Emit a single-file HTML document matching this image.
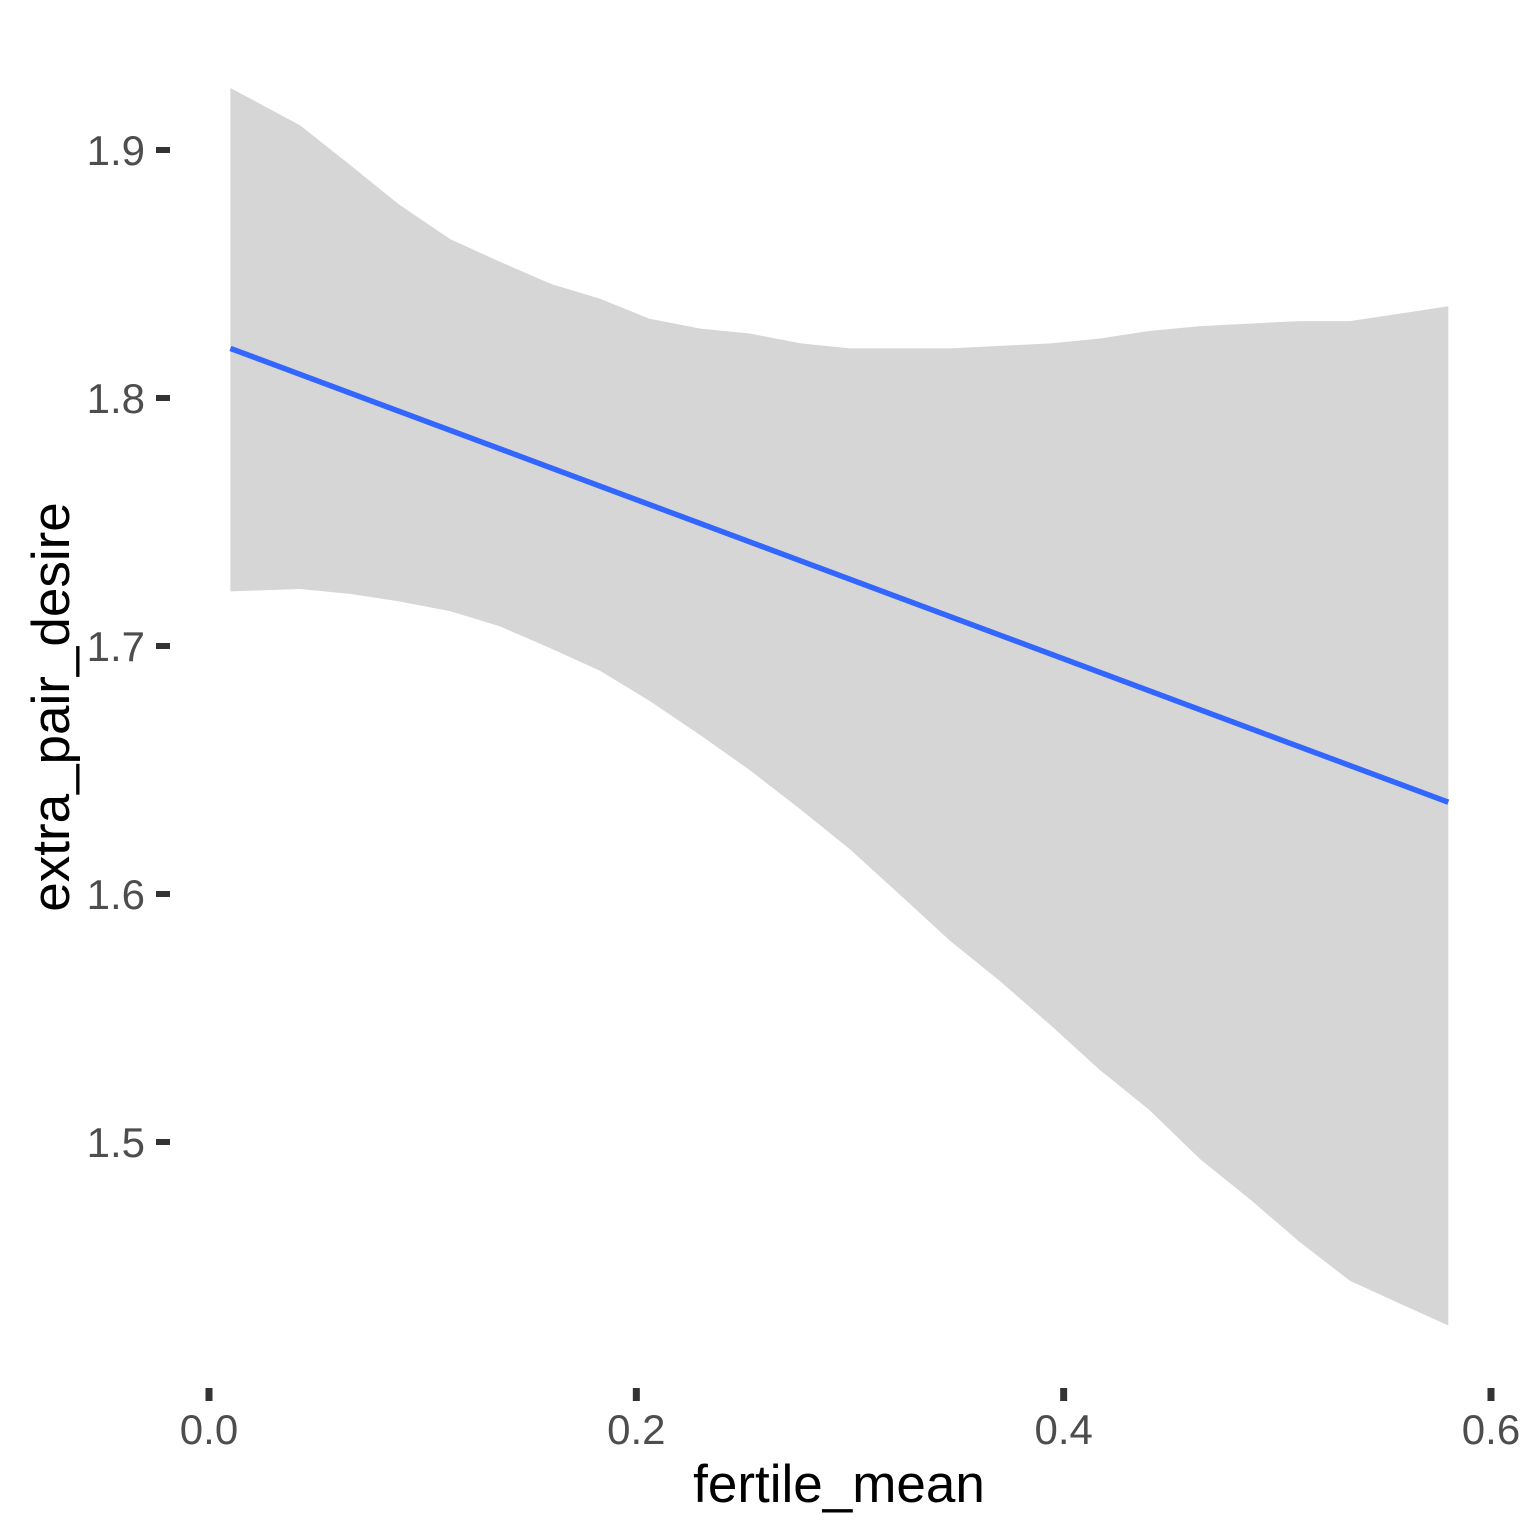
<!DOCTYPE html>
<html><head><meta charset="utf-8"><style>
html,body{margin:0;padding:0;background:#fff;}
svg{display:block;font-family:"Liberation Sans",Arial,sans-serif;}
</style></head><body>
<svg id="chart" width="1536" height="1536" viewBox="0 0 1536 1536" xmlns="http://www.w3.org/2000/svg">
<g id="ribbon-layer"></g>
<g id="line-layer"></g>
<g id="yaxis"></g>
<g id="xaxis"></g>
<text x="839" y="1502" font-size="53" text-anchor="middle" fill="#000">fertile_mean</text>
<text transform="translate(69,707) rotate(-90)" font-size="53" text-anchor="middle" fill="#000">extra_pair_desire</text>
</svg>
<script>
const ribbonX = [0.01,0.0426,0.066,0.089,0.113,0.136,0.16,0.183,0.206,0.23,0.253,0.277,0.3,0.323,0.347,0.37,0.394,0.417,0.44,0.464,0.487,0.51,0.534,0.557,0.58];
const ribbonUpper = [1.925,1.910,1.894,1.878,1.864,1.855,1.846,1.840,1.832,1.828,1.826,1.822,1.820,1.820,1.820,1.821,1.822,1.824,1.827,1.829,1.830,1.831,1.831,1.834,1.837];
const ribbonLower = [1.722,1.723,1.721,1.718,1.714,1.708,1.699,1.690,1.678,1.664,1.650,1.634,1.618,1.600,1.581,1.565,1.547,1.529,1.513,1.493,1.477,1.460,1.444,1.435,1.426];
const lineX = [0.01,0.58];
const lineY = [1.820,1.637];
const xTicks = [0.0,0.2,0.4,0.6];
const xTickLabels = ["0.0","0.2","0.4","0.6"];
const yTicks = [1.5,1.6,1.7,1.8,1.9];
const yTickLabels = ["1.5","1.6","1.7","1.8","1.9"];

const NS = "http://www.w3.org/2000/svg";
function sx(v){ return 209 + v * (1491 - 209) / 0.6; }
function sy(v){ return 150 + (1.9 - v) * 2480; }

const rib = document.getElementById('ribbon-layer');
let d = '';
ribbonX.forEach((x,i)=>{ d += (i?'L':'M') + sx(x).toFixed(1) + ',' + sy(ribbonUpper[i]).toFixed(1); });
for (let i = ribbonX.length-1; i>=0; i--) d += 'L' + sx(ribbonX[i]).toFixed(1) + ',' + sy(ribbonLower[i]).toFixed(1);
d += 'Z';
const rp = document.createElementNS(NS,'path');
rp.setAttribute('d', d);
rp.setAttribute('fill', '#d6d6d6');


rib.appendChild(rp);

const ll = document.getElementById('line-layer');
let ld = '';
lineX.forEach((x,i)=>{ ld += (i?'L':'M') + sx(x).toFixed(1) + ',' + sy(lineY[i]).toFixed(1); });
const lp = document.createElementNS(NS,'path');
lp.setAttribute('d', ld);
lp.setAttribute('stroke', '#3366ff');
lp.setAttribute('stroke-width', '5.5');
lp.setAttribute('fill', 'none');


ll.appendChild(lp);

const ya = document.getElementById('yaxis');
yTicks.forEach((v,i)=>{
  const r = document.createElementNS(NS,'rect');
  r.setAttribute('x', 156); r.setAttribute('y', sy(v)-3); r.setAttribute('width', 14); r.setAttribute('height', 6);
  r.setAttribute('fill', '#333');
  
  
  ya.appendChild(r);
  const t = document.createElementNS(NS,'text');
  t.setAttribute('x', 145); t.setAttribute('y', sy(v)+15); t.setAttribute('text-anchor','end');
  t.setAttribute('font-size', '42'); t.setAttribute('fill', '#4d4d4d');
  t.textContent = yTickLabels[i];
  
  
  ya.appendChild(t);
});
const xa = document.getElementById('xaxis');
xTicks.forEach((v,i)=>{
  const r = document.createElementNS(NS,'rect');
  r.setAttribute('x', sx(v)-3.5); r.setAttribute('y', 1388); r.setAttribute('width', 7); r.setAttribute('height', 13);
  r.setAttribute('fill', '#333');
  
  
  xa.appendChild(r);
  const t = document.createElementNS(NS,'text');
  t.setAttribute('x', sx(v)); t.setAttribute('y', 1444); t.setAttribute('text-anchor','middle');
  t.setAttribute('font-size', '42'); t.setAttribute('fill', '#4d4d4d');
  t.textContent = xTickLabels[i];
  
  
  xa.appendChild(t);
});
</script>
</body></html>
